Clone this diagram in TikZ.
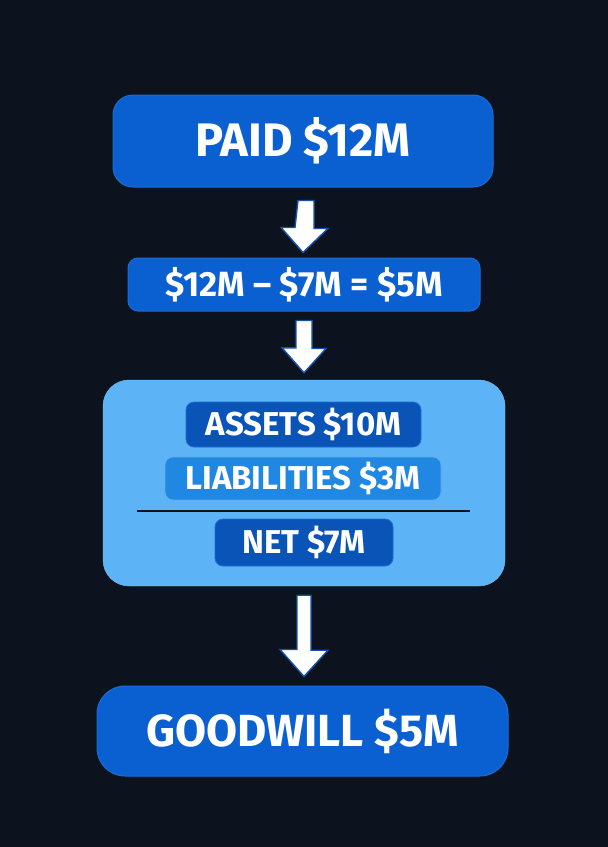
\documentclass[tikz,border=0pt]{standalone}
\usepackage{fontspec}
\setmainfont{Fira Sans}
\usetikzlibrary{calc}
\definecolor{bgnavy}{RGB}{12,18,30}
\definecolor{midblue}{RGB}{10,96,208}
\definecolor{edgeblue}{RGB}{28,110,215}
\definecolor{deepblue}{RGB}{10,84,184}
\definecolor{paleblue}{RGB}{92,180,246}
\definecolor{skyblue}{RGB}{32,136,226}
\definecolor{arrowedge}{RGB}{22,82,172}
\tikzset{
  bigbox/.style={draw=edgeblue,fill=midblue,line width=1pt,rounded corners=20pt,text=white,font=\bfseries},
  subbox/.style={draw=edgeblue,fill=deepblue,line width=.8pt,rounded corners=8pt,text=white,font=\bfseries\fontsize{33}{33}\selectfont},
  arrowbox/.style={draw=arrowedge,fill=white,line width=1.4pt,line join=miter},
}
\begin{document}
\begin{tikzpicture}[x=1pt,y=-1pt,line join=round]
  \fill[bgnavy] (0,0) rectangle (608,847);
  \useasboundingbox (0,0) rectangle (608,847);
  \node[bigbox,minimum width=380pt,minimum height=92pt,font=\bfseries\fontsize{47}{47}\selectfont] (paid) at (303,141) {PAID \$12M};
  \node[bigbox,minimum width=352pt,minimum height=53pt,rounded corners=10pt,font=\bfseries\fontsize{35}{35}\selectfont] (calc) at (304,284.5) {\$12M – \$7M = \$5M};
  \node[draw=paleblue!80!white,fill=paleblue,rounded corners=26pt,minimum width=402pt,minimum height=206pt] (fair) at (304,483) {};
  \node[subbox,minimum width=235pt,minimum height=45pt] (assets) at (303.5,424.5) {ASSETS \$10M};
  \node[subbox,fill=skyblue,draw=skyblue!70!white,minimum width=276pt,minimum height=43pt] (liab) at (303,478.5) {LIABILITIES \$3M};
  \node[subbox,minimum width=178pt,minimum height=47pt] (net) at (304,542.5) {NET \$7M};
  \node[bigbox,minimum width=411pt,minimum height=90pt,rounded corners=28pt,font=\bfseries\fontsize{45}{45}\selectfont] (goodwill) at (302.5,731) {GOODWILL \$5M};
  \coordinate (ruleL) at (137,511);
  \coordinate (ruleR) at (470,511);
  \draw[bgnavy,line width=1.2pt] (ruleL) -- (ruleR);
  % arrows
  \draw[arrowbox] ($(paid.south)+(-5,13)$) -- ++(16,0) -- ++(0,28) -- ++(14,0)
    -- ($(paid.south |- calc.north)+(0,-5)$) -- ++(-22,-25) -- ++(14,0) -- cycle;
  \draw[arrowbox] ($(calc.south)+(-8,9)$) -- ++(16,0) -- ++(0,28) -- ++(14,0)
    -- ($(calc.south |- fair.north)+(0,-7)$) -- ++(-22,-25) -- ++(14,0) -- cycle;
  \draw[arrowbox] ($(fair.south)+(-7,9)$) -- ++(14,0) -- ++(0,55) -- ++(17,0)
    -- ($(fair.south |- goodwill.north)+(0,-9)$) -- ++(-24,-27) -- ++(17,0) -- cycle;
\end{tikzpicture}
\end{document}
